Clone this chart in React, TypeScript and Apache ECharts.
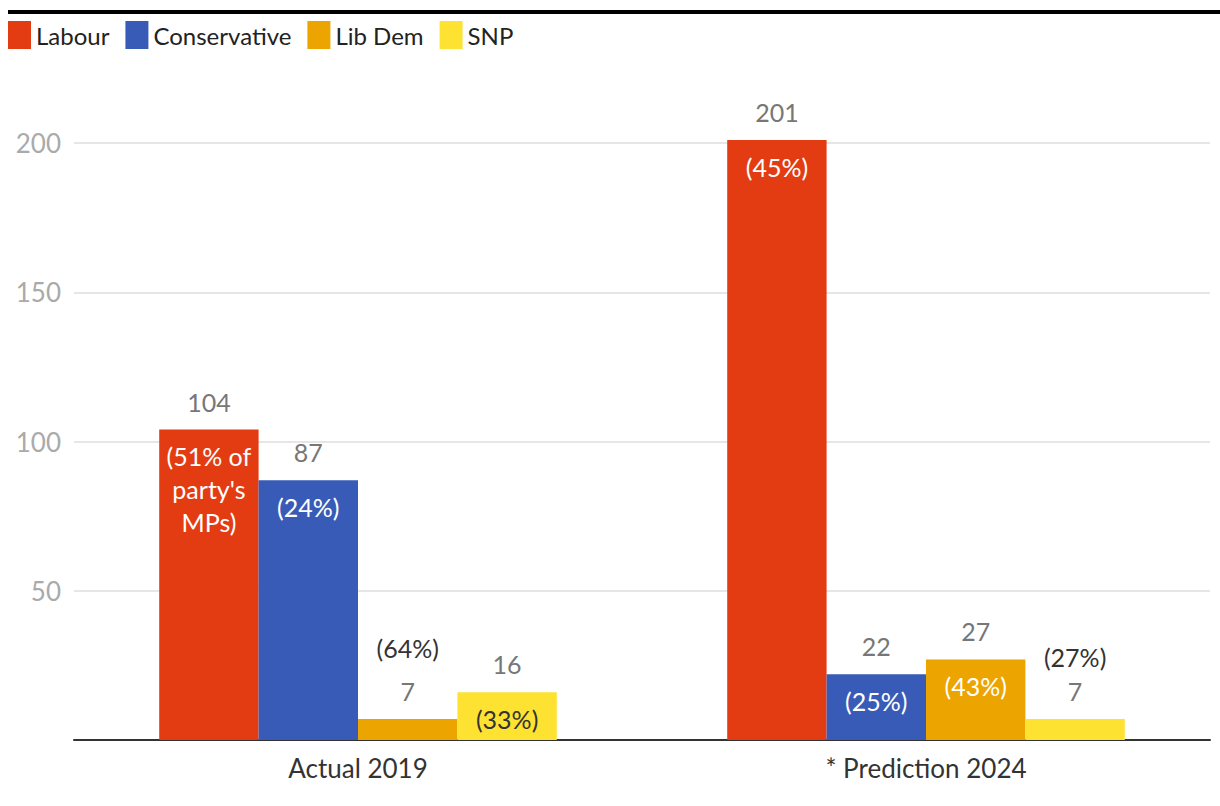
import React, { useEffect, useRef } from "react";
import * as echarts from "echarts";

const categories = ["Actual 2019", "* Prediction 2024"];
const parties = ["Labour", "Conservative", "Lib Dem", "SNP"];
const labourSeats = [104, 201];
const conservativeSeats = [87, 22];
const libDemSeats = [7, 27];
const snpSeats = [16, 7];
const labourPct = ["(51% of\nparty's\nMPs)", "(45%)"];
const conservativePct = ["(24%)", "(25%)"];
const libDemPct = ["(64%)", "(43%)"];
const snpPct = ["(33%)", "(27%)"];
const yTicks = [0, 50, 100, 150, 200];

const colors = ["#e33c12", "#395bb8", "#eca400", "#fee232"];
const insideTextColors = ["#ffffff", "#ffffff", "#ffffff", "#333333"];
const FONT = "Lato, 'Noto Sans', sans-serif";

export default function App() {
  const ref = useRef<HTMLDivElement>(null);
  useEffect(() => {
    if (!ref.current) return;
    const chart = echarts.init(ref.current, null, { renderer: "svg" });
    const seats = [labourSeats, conservativeSeats, libDemSeats, snpSeats];
    const pcts = [labourPct, conservativePct, libDemPct, snpPct];

    const valueSeries = parties.map((name, i) => ({
      name,
      type: "bar",
      xAxisIndex: 0,
      yAxisIndex: 0,
      data: seats[i],
      clip: false,
      barGap: "0%",
      barCategoryGap: "30%",
      itemStyle: { color: colors[i] },
      label: {
        show: true,
        position: "top",
        distance: 13,
        color: "#777777",
        fontSize: 25,
        lineHeight: 30,
        fontFamily: FONT,
      },
    }));

    const pctSeries = parties.map((name, i) => ({
      name: name + " share",
      type: "bar",
      xAxisIndex: 1,
      yAxisIndex: 0,
      clip: false,
      silent: true,
      barGap: "0%",
      barCategoryGap: "30%",
      itemStyle: { color: "rgba(0,0,0,0)" },
      data: seats[i].map((v, j) => {
        const outside = v < 10;
        return {
          value: v,
          label: {
            show: true,
            formatter: pcts[i][j],
            position: outside ? "top" : "insideTop",
            distance: outside ? (j === 0 ? 55 : 46) : 10,
            color: outside ? "#333333" : insideTextColors[i],
            fontSize: 25,
            lineHeight: 33,
            align: "center",
            fontFamily: FONT,
          },
        };
      }),
    }));

    chart.setOption({
      animation: false,
      textStyle: { fontFamily: FONT },
      color: colors,
      legend: {
        data: parties,
        left: 8,
        top: 21,
        padding: 0,
        icon: "rect",
        itemWidth: 23,
        itemHeight: 28,
        itemGap: 16,
        textStyle: { fontSize: 24, color: "#222222", fontFamily: FONT },
        selectedMode: false,
      },
      graphic: [
        {
          type: "rect",
          left: 8,
          top: 10,
          shape: { width: 1212, height: 4 },
          style: { fill: "#000000" },
        },
      ],
      grid: { left: 74, right: 10, top: 143, bottom: 66, containLabel: false },
      xAxis: [
        {
          type: "category",
          data: categories,
          axisLine: { show: true, lineStyle: { color: "#333333", width: 2 } },
          axisTick: { show: false },
          axisLabel: { color: "#333333", fontSize: 26, margin: 15, fontFamily: FONT },
        },
        {
          type: "category",
          data: categories,
          show: false,
        },
      ],
      yAxis: {
        type: "value",
        min: yTicks[0],
        max: yTicks[yTicks.length - 1],
        interval: yTicks[1] - yTicks[0],
        axisLine: { show: false },
        axisTick: { show: false },
        axisLabel: {
          color: "#aaaaaa",
          fontSize: 26,
          margin: 13,
          showMinLabel: false,
          fontFamily: FONT,
        },
        splitLine: { lineStyle: { color: "#e6e6e6", width: 2 } },
      },
      series: [...valueSeries, ...pctSeries],
    });
    return () => chart.dispose();
  }, []);
  return (
    <div
      ref={ref}
      style={{ position: "fixed", left: 0, top: 0, width: 1220, height: 806, background: "#fff" }}
    />
  );
}
